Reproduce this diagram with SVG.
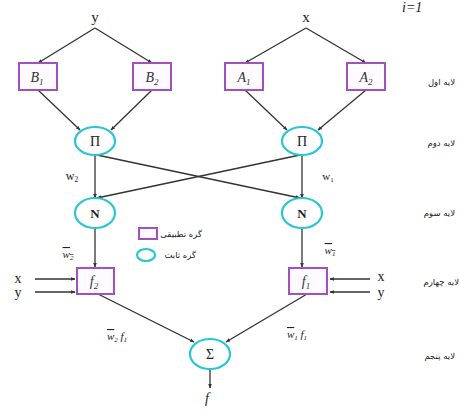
<svg xmlns="http://www.w3.org/2000/svg" width="459" height="410" viewBox="0 0 459 410">
<style>
.box{fill:#fdfbff;stroke:#a24fc0;stroke-width:2}
.cir{fill:#ffffff;stroke:#27c6d6;stroke-width:2.2}
.ln{stroke:#333;stroke-width:1.3;fill:none}
.t{font-family:"Liberation Serif",serif;fill:#222}
.lab{font-family:"Liberation Serif",serif;font-style:italic;font-size:14px;fill:#333;text-anchor:middle}
.fa{font-family:"DejaVu Sans",sans-serif;font-size:8.5px;fill:#222;text-anchor:end}
</style>
<defs>
<marker id="ah" viewBox="0 0 10 10" refX="9" refY="5" markerWidth="3.5" markerHeight="3.5" orient="auto">
<path d="M0,1 L10,5 L0,9 z" fill="#333"/>
</marker>
</defs>
<rect width="459" height="410" fill="#fff"/>
<text class="t" x="402" y="12" font-size="14" font-style="italic">i=1</text>

<g id="connectors">
<path class="ln" d="M95,28 L38,63" marker-end="url(#ah)"/>
<path class="ln" d="M95,28 L152,63" marker-end="url(#ah)"/>
<path class="ln" d="M306,28 L245,63" marker-end="url(#ah)"/>
<path class="ln" d="M306,28 L366,63" marker-end="url(#ah)"/>
<path class="ln" d="M38,90 L80,130" marker-end="url(#ah)"/>
<path class="ln" d="M152,90 L111,130" marker-end="url(#ah)"/>
<path class="ln" d="M245,90 L287,130" marker-end="url(#ah)"/>
<path class="ln" d="M366,90 L318,130" marker-end="url(#ah)"/>
<path class="ln" d="M95,154 L95,198" marker-end="url(#ah)"/>
<path class="ln" d="M302,154 L302,198" marker-end="url(#ah)"/>
<path class="ln" d="M97,155 L300,198" marker-end="url(#ah)"/>
<path class="ln" d="M300,155 L97,198" marker-end="url(#ah)"/>
<path class="ln" d="M95,228 L95,267" marker-end="url(#ah)"/>
<path class="ln" d="M302,228 L302,267" marker-end="url(#ah)"/>
<path class="ln" d="M35,279 L75,279" marker-end="url(#ah)"/>
<path class="ln" d="M35,292 L75,292" marker-end="url(#ah)"/>
<path class="ln" d="M370,279 L330,279" marker-end="url(#ah)"/>
<path class="ln" d="M370,292 L330,292" marker-end="url(#ah)"/>
<path class="ln" d="M98,294 L194,342" marker-end="url(#ah)"/>
<path class="ln" d="M307,294 L226,342" marker-end="url(#ah)"/>
<path class="ln" d="M210,369 L210,388" marker-end="url(#ah)"/>
</g>

<text class="t" x="95" y="22" font-size="15" text-anchor="middle">y</text>
<text class="t" x="306" y="22" font-size="15" text-anchor="middle">x</text>

<g id="B1"><rect class="box" x="19" y="63" width="38" height="27"/><text class="lab" x="37" y="82">B<tspan font-size="9" dy="3">1</tspan></text></g>
<g id="B2"><rect class="box" x="133" y="63" width="38" height="27"/><text class="lab" x="152" y="82">B<tspan font-size="9" dy="3">2</tspan></text></g>
<g id="A1"><rect class="box" x="225" y="63" width="38" height="27"/><text class="lab" x="244" y="82">A<tspan font-size="9" dy="3">1</tspan></text></g>
<g id="A2"><rect class="box" x="347" y="63" width="38" height="27"/><text class="lab" x="366" y="82">A<tspan font-size="9" dy="3">2</tspan></text></g>

<g id="PiL"><ellipse class="cir" cx="95" cy="141" rx="20" ry="14"/><text class="t" x="95" y="146" font-size="14" text-anchor="middle">Π</text></g>
<g id="PiR"><ellipse class="cir" cx="302" cy="141" rx="20" ry="14"/><text class="t" x="302" y="146" font-size="14" text-anchor="middle">Π</text></g>
<g id="NL"><ellipse class="cir" cx="95" cy="213" rx="20" ry="15"/><text class="t" x="95" y="218" font-size="13" font-weight="bold" text-anchor="middle">N</text></g>
<g id="NR"><ellipse class="cir" cx="302" cy="213" rx="20" ry="15"/><text class="t" x="302" y="218" font-size="13" font-weight="bold" text-anchor="middle">N</text></g>

<g id="f2"><rect class="box" x="77" y="268" width="37" height="26"/><text class="lab" x="94" y="286">f<tspan font-size="9" dy="3">2</tspan></text></g>
<g id="f1"><rect class="box" x="289" y="268" width="38" height="26"/><text class="lab" x="306" y="286">f<tspan font-size="9" dy="3">1</tspan></text></g>

<g id="Sigma"><ellipse class="cir" cx="210" cy="354" rx="20" ry="15"/><text class="t" x="210" y="359" font-size="14" text-anchor="middle">Σ</text></g>

<text class="t" x="72" y="180" font-size="12" text-anchor="middle">w<tspan font-size="8" dy="2">2</tspan></text>
<text class="t" x="328" y="180" font-size="11" text-anchor="middle">w<tspan font-size="7" dy="2">1</tspan></text>
<text class="t" x="68" y="258" font-size="11" font-style="italic" text-anchor="middle" text-decoration="overline">w<tspan font-size="7" dy="2">2</tspan></text>
<text class="t" x="330" y="254" font-size="11" font-style="italic" text-anchor="middle" text-decoration="overline">w<tspan font-size="7" dy="2">1</tspan></text>
<text class="t" x="117" y="340" font-size="11" font-style="italic" text-anchor="middle"><tspan text-decoration="overline">w</tspan><tspan font-size="7" dy="2">2</tspan><tspan dy="-2"> f</tspan><tspan font-size="7" dy="2">1</tspan></text>
<text class="t" x="297" y="338" font-size="11" font-style="italic" text-anchor="middle"><tspan text-decoration="overline">w</tspan><tspan font-size="7" dy="2">1</tspan><tspan dy="-2"> f</tspan><tspan font-size="7" dy="2">1</tspan></text>
<text class="t" x="207" y="403" font-size="14" font-style="italic" text-anchor="middle">f</text>

<text class="t" x="18" y="283" font-size="14" text-anchor="middle">x</text>
<text class="t" x="18" y="297" font-size="14" text-anchor="middle">y</text>
<text class="t" x="381" y="281" font-size="14" text-anchor="middle">x</text>
<text class="t" x="381" y="297" font-size="14" text-anchor="middle">y</text>

<g id="legend">
<rect class="box" x="139" y="228" width="18" height="11"/>
<text class="fa" x="202" y="237" font-size="7.5">گره تطبیقی</text>
<ellipse class="cir" cx="146" cy="255" rx="9" ry="6"/>
<text class="fa" x="196" y="258" font-size="7.5">گره ثابت</text>
</g>

<text class="fa" x="455" y="85">لایه اول</text>
<text class="fa" x="455" y="146">لایه دوم</text>
<text class="fa" x="455" y="216">لایه سوم</text>
<text class="fa" x="459" y="285">لایه چهارم</text>
<text class="fa" x="455" y="359">لایه پنجم</text>
</svg>
